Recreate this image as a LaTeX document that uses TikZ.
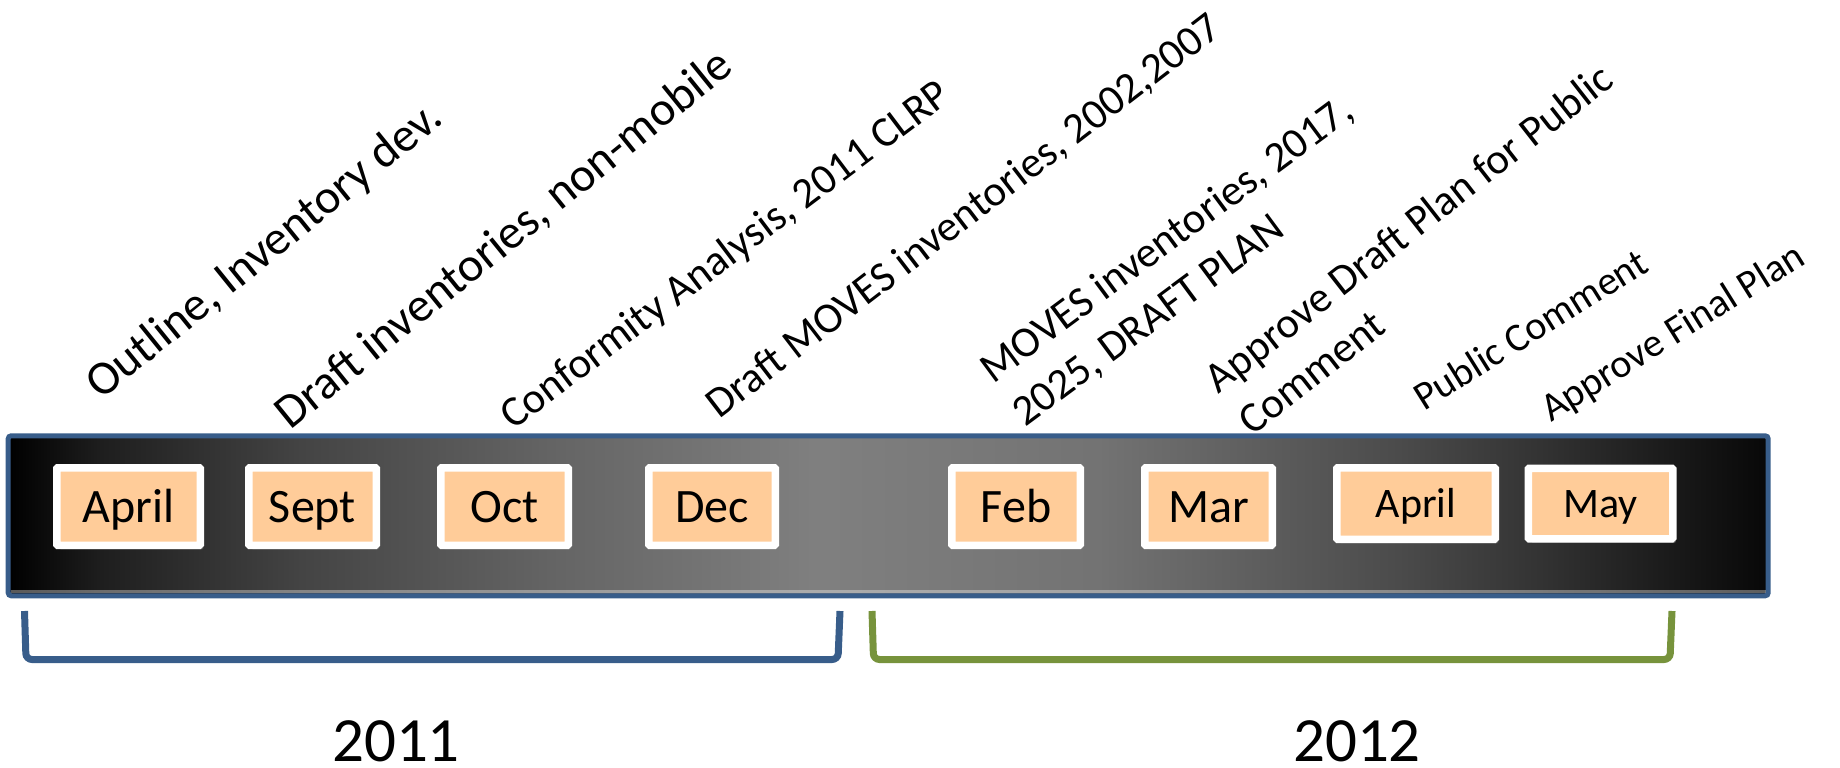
\documentclass[tikz,border=0pt]{standalone}
\usepackage{fontspec}
\setmainfont{Carlito}
\usetikzlibrary{shadows}
\definecolor{barblue}{HTML}{385D8A}
\definecolor{yrgreen}{HTML}{77933C}
\definecolor{peach}{HTML}{FFCC99}
\definecolor{gA}{gray}{0.118}
\definecolor{gB}{gray}{0.267}
\definecolor{gC}{gray}{0.392}
\definecolor{gD}{gray}{0.5}
\definecolor{gE}{gray}{0.45}
\definecolor{gF}{gray}{0.294}
\definecolor{gG}{gray}{0.2}
\definecolor{gH}{gray}{0.082}
\definecolor{gI}{gray}{0.03}
\pgfdeclarehorizontalshading{barshade}{100bp}{color(0bp)=(black); color(25bp)=(black); color(27.65bp)=(gA); color(33.35bp)=(gB); color(40.4bp)=(gC); color(48bp)=(gD); color(56bp)=(gE); color(64.5bp)=(gF); color(68.5bp)=(gG); color(73bp)=(gH); color(75bp)=(gI); color(100bp)=(gI)}
\tikzset{
  monthbox/.style={draw=white, line width=7.5pt, fill=peach, rounded corners=1pt,
    inner sep=0pt, text=black, text height=31pt, text depth=0pt,
    font=\fontsize{48}{58}\selectfont,
    drop shadow={shadow xshift=3pt, shadow yshift=-4pt, opacity=0.45}},
  smallbox/.style={monthbox, text height=27pt, font=\fontsize{42}{50}\selectfont},
  tasklabel/.style={anchor=base west, inner sep=0pt, align=left},
  biglabel/.style={tasklabel, rotate=39, font=\fontsize{48}{58}\selectfont},
  midlabel/.style={tasklabel, font=\fontsize{43}{54}\selectfont},
  smalllabel/.style={tasklabel, rotate=32, font=\fontsize{40}{48}\selectfont},
  yearlabel/.style={anchor=base, inner sep=0pt, font=\fontsize{63}{75}\selectfont},
  bracket/.style={line width=7pt, rounded corners=6pt}
}
\begin{document}
\begin{tikzpicture}[x=1pt, y=-1pt]
\useasboundingbox (0,0) rectangle (1840,768);
% bar
\path[draw=barblue, line width=5pt, rounded corners=3pt, shading=barshade]
  (8.2,435.8) rectangle (1768.2,595.8);
\fill[white, opacity=0.35] (10.7,590) rectangle (1765.7,593.3);
% month boxes
\node[monthbox, minimum width=143.5pt, minimum height=77.5pt] (m1) at (128.5,506.5) {April};
\node[monthbox, minimum width=127.5pt, minimum height=77.5pt] (m2) at (312.5,506.5) {Sept};
\node[monthbox, minimum width=127.5pt, minimum height=77.5pt] (m3) at (504.5,506.5) {Oct};
\node[monthbox, minimum width=126.5pt, minimum height=77.5pt] (m4) at (712,506.5) {Dec};
\node[monthbox, minimum width=128.5pt, minimum height=77.5pt] (m5) at (1016,506.5) {Feb};
\node[monthbox, minimum width=127.5pt, minimum height=77.5pt] (m6) at (1208.5,506.5) {Mar};
\node[smallbox, minimum width=158.5pt, minimum height=71.5pt] (m7) at (1416,503.5) {April};
\node[smallbox, minimum width=144.5pt, minimum height=70.5pt] (m8) at (1600.5,503.5) {May};
% task labels (anchored at the start of the last line's baseline)
\node[biglabel] (t1) at (101,401) {Outline, Inventory dev.};
\node[biglabel] (t2) at (290,431) {Draft inventories, non-mobile};
\node[midlabel, rotate=37] (t3) at (513,431) {Conformity Analysis, 2011 CLRP};
\node[midlabel, rotate=37.5] (t4) at (719,420) {Draft MOVES inventories, 2002,2007};
\node[midlabel, rotate=36.5] (t5) at (1025,428) {MOVES inventories, 2017,\\2025, DRAFT PLAN};
\node[midlabel, rotate=38] (t6) at (1252,437) {Approve Draft Plan for Public\\Comment};
\node[smalllabel] (t7) at (1424,412) {Public Comment};
\node[smalllabel] (t8) at (1551,423) {Approve Final Plan};
% brackets
\draw[bracket, barblue] (24.5,611) -- (26,659.5) -- (838,659.5) -- (840,611);
\draw[bracket, yrgreen] (872,611) -- (873.5,659.5) -- (1670,659.5) -- (1672,611);
% years
\node[yearlabel] (y1) at (396,761.7) {2011};
\node[yearlabel] (y2) at (1357,761.7) {2012};
\end{tikzpicture}
\end{document}
